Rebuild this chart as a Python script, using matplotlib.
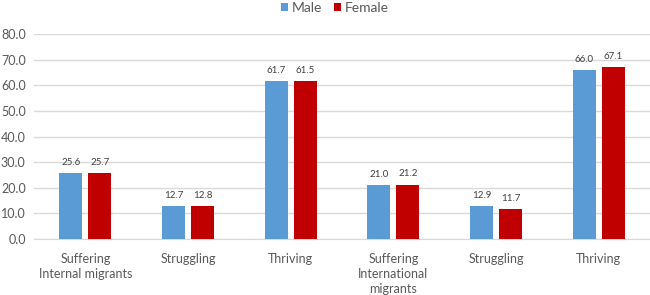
import matplotlib
matplotlib.use("Agg")
import matplotlib.pyplot as plt
import numpy as np

categories = ["Suffering\nInternal migrants", "Struggling", "Thriving",
              "Suffering\nInternational\nmigrants", "Struggling", "Thriving"]
male = [25.6, 12.7, 61.7, 21.0, 12.9, 66.0]
female = [25.7, 12.8, 61.5, 21.2, 11.7, 67.1]
series_names = ["Male", "Female"]
yticks = [0, 10, 20, 30, 40, 50, 60, 70, 80]

plt.rcParams['font.family'] = ['Lato', 'DejaVu Sans']
txt = '#595959'

fig = plt.figure(figsize=(6.5, 2.95), dpi=100)
ax = fig.add_axes([34/650, 56/295, 616/650, 205/295])

x = np.arange(len(categories))
w = 0.224
off = 0.141
b1 = ax.bar(x - off, male, w, color='#5B9BD5', label=series_names[0], zorder=3)
b2 = ax.bar(x + off, female, w, color='#C00000', label=series_names[1], zorder=3)

for bars, vals in ((b1, male), (b2, female)):
    for r, v in zip(bars, vals):
        ax.annotate(f"{v:.1f}", (r.get_x() + r.get_width()/2, v),
                    xytext=(0, 4.5), textcoords='offset points',
                    ha='center', va='bottom', fontsize=7, color='#404040')

ax.set_xlim(-0.5, len(categories) - 0.5)
ax.set_ylim(0, 80)
ax.set_yticks(yticks)
ax.set_yticklabels([f"{t:.1f}" for t in yticks], fontsize=9, color=txt)
ax.set_xticks(x)
ax.set_xticklabels(categories, fontsize=9, color=txt, linespacing=1.3, va='top')
ax.tick_params(axis='both', length=0)
ax.tick_params(axis='x', pad=10)
ax.tick_params(axis='y', pad=6)
ax.grid(axis='y', color='#D9D9D9', linewidth=1, zorder=0)
for s in ['top', 'right', 'left']:
    ax.spines[s].set_visible(False)
ax.spines['bottom'].set_color('#D9D9D9')
ax.set_axisbelow(True)

fig.legend(handles=[b1, b2], labels=series_names, loc='upper center',
           bbox_to_anchor=(0.515, 1.035), ncol=2, frameon=False, fontsize=10,
           handlelength=0.5, handleheight=0.5, handletextpad=0.25,
           columnspacing=0.9, labelcolor=txt)

fig.savefig("out.png", dpi=100)
